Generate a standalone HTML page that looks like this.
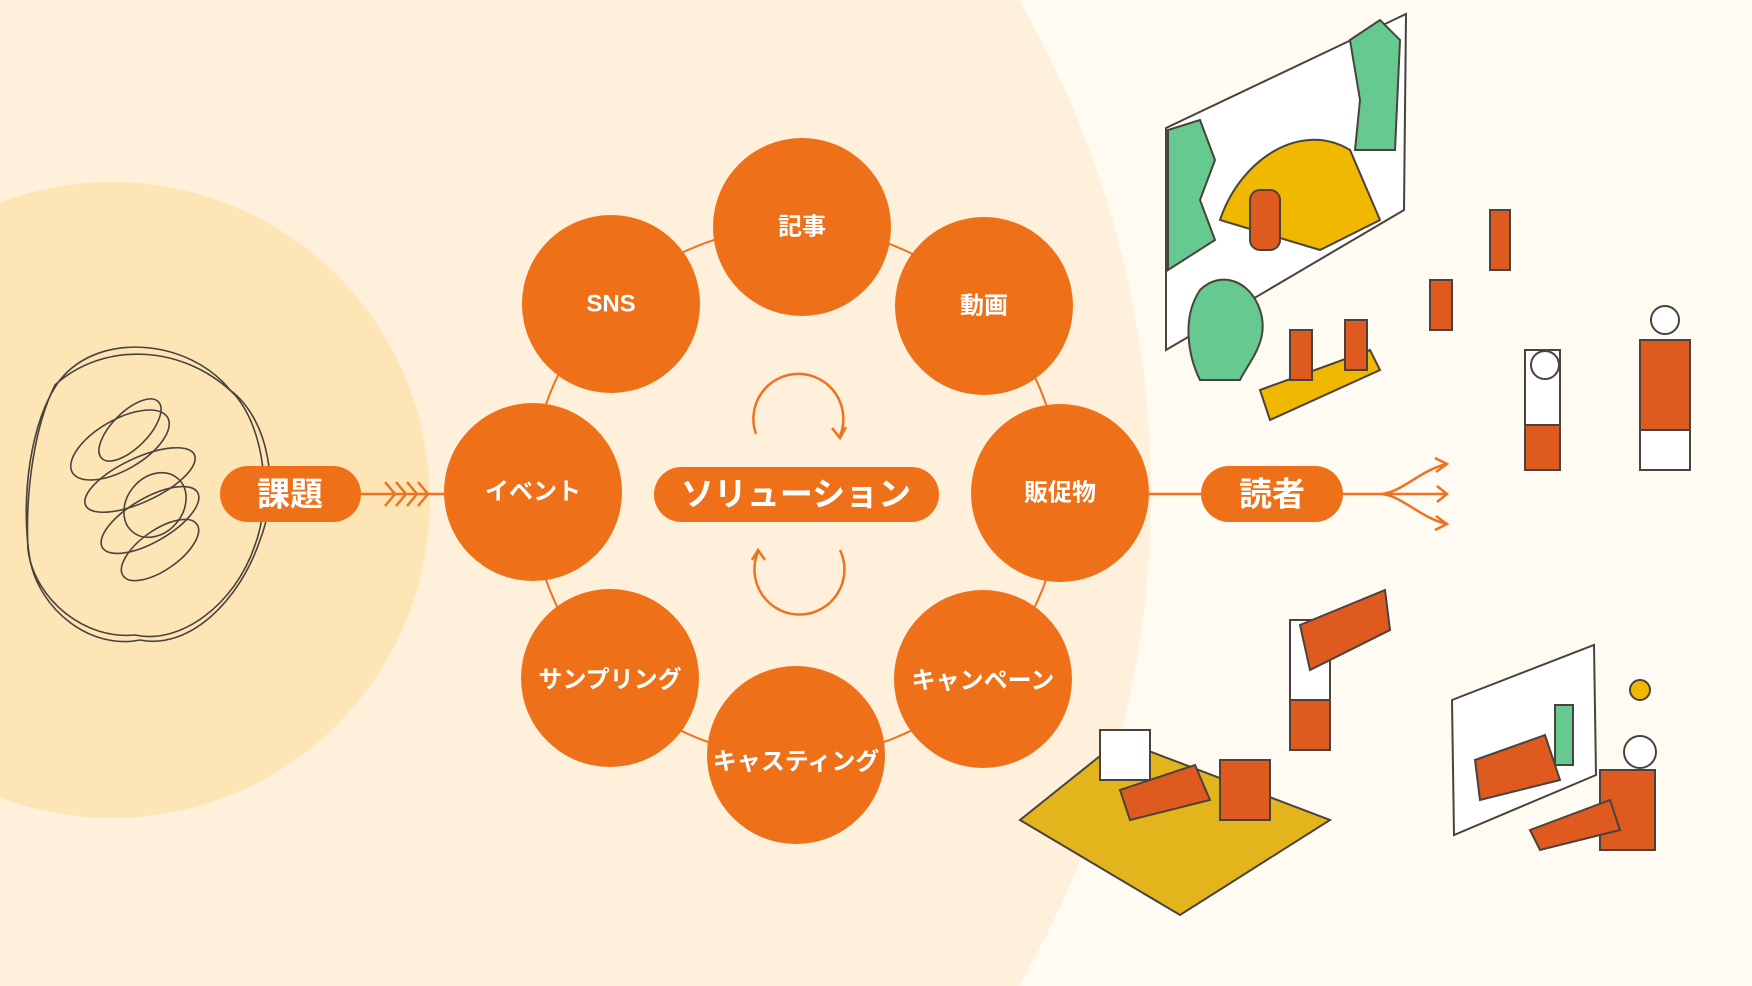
<!DOCTYPE html>
<html><head><meta charset="utf-8"><style>
html,body{margin:0;padding:0;background:#fffbf3;width:1752px;height:986px;overflow:hidden;}
svg{display:block}
text{font-family:"Liberation Sans","Noto Sans CJK JP",sans-serif;font-weight:bold;fill:#fff;text-anchor:middle;dominant-baseline:central}
</style></head><body>
<svg width="1752" height="986" viewBox="0 0 1752 986" xmlns="http://www.w3.org/2000/svg">
<rect width="1752" height="986" fill="#fffbf3"/>
<circle cx="165" cy="493" r="986" fill="#fef0db"/>
<circle cx="112" cy="500" r="318" fill="#fde5b6"/>
<g fill="none" stroke="#4a423c" stroke-width="1.6">
<path d="M60 380 C100 330 190 340 230 390 C270 420 280 490 260 540 C240 600 190 650 140 640 C90 650 40 610 30 560 C20 500 30 420 60 380Z"/>
<path d="M55 385 C105 340 185 345 235 395 C265 430 272 500 255 545 C235 605 180 645 135 635 C85 640 35 600 28 550 C25 490 35 425 55 385Z"/>
<ellipse cx="120" cy="445" rx="55" ry="25" transform="rotate(-30 120 445)"/>
<ellipse cx="140" cy="480" rx="60" ry="22" transform="rotate(-25 140 480)"/>
<ellipse cx="150" cy="520" rx="55" ry="22" transform="rotate(-30 150 520)"/>
<ellipse cx="160" cy="550" rx="45" ry="20" transform="rotate(-35 160 550)"/>
<ellipse cx="130" cy="430" rx="40" ry="18" transform="rotate(-45 130 430)"/>
<ellipse cx="155" cy="505" rx="35" ry="28" transform="rotate(-50 155 505)"/>
</g>
<circle cx="796" cy="492" r="265" fill="none" stroke="#ef7220" stroke-width="2"/>
<g stroke="#ef7220" stroke-width="2.5" fill="none">
<line x1="361" y1="494" x2="445" y2="494"/>
<path d="M385 482 L395 494 L385 506 M396 482 L406 494 L396 506 M407 482 L417 494 L407 506 M418 482 L428 494 L418 506"/>
<line x1="1149" y1="494" x2="1201" y2="494"/>
<path d="M1343 494 H1380 M1380 494 C1400 494 1420 470 1447 464 M1380 494 H1447 M1380 494 C1400 494 1420 518 1447 524"/>
<path d="M1435 458 L1447 464 L1436 472 M1437 486 L1447 494 L1437 502 M1436 516 L1447 524 L1435 530"/>
<path d="M756 434 A45 45 0 1 1 840 436"/>
<path d="M832 428 L840 438 L846 427"/>
<path d="M840 550 A45 45 0 1 1 758 552"/>
<path d="M752 560 L758 550 L765 560"/>
</g>
<g fill="#ee7119">
<circle cx="802" cy="227" r="89"/><circle cx="611" cy="304" r="89"/><circle cx="984" cy="306" r="89"/>
<circle cx="533" cy="492" r="89"/><circle cx="1060" cy="493" r="89"/><circle cx="610" cy="678" r="89"/>
<circle cx="796" cy="755" r="89"/><circle cx="983" cy="679" r="89"/>
<rect x="654" y="467" width="285" height="55" rx="27.5"/>
<rect x="220" y="466" width="141" height="56" rx="28"/>
<rect x="1201" y="466" width="142" height="56" rx="28"/>
</g>
<g font-size="24">
<text x="802" y="227">記事</text><text x="611" y="304">SNS</text><text x="984" y="306">動画</text>
<text x="533" y="492">イベント</text><text x="1060" y="493">販促物</text><text x="610" y="680">サンプリング</text>
<text x="796" y="762">キャスティング</text><text x="983" y="681">キャンペーン</text>
</g>
<text x="796" y="494" font-size="33">ソリューション</text>
<text x="290" y="494" font-size="33">課題</text>
<text x="1272" y="494" font-size="33">読者</text>
<g stroke="#4a423c" stroke-width="2">
<path d="M1166 128 L1406 14 L1404 210 L1166 350 Z" fill="#fff"/>
<path d="M1168 130 L1200 120 L1215 160 L1200 200 L1215 240 L1168 270Z" fill="#66c98f"/>
<path d="M1350 40 L1380 20 L1400 40 L1395 150 L1355 150 L1360 100Z" fill="#66c98f"/>
<path d="M1220 220 C1240 160 1300 120 1350 150 L1380 220 L1320 250Z" fill="#f0b800"/>
<path d="M1200 290 C1220 270 1250 280 1260 310 C1270 340 1250 360 1240 380 L1200 380 C1190 360 1180 320 1200 290Z" fill="#66c98f"/>
<rect x="1250" y="190" width="30" height="60" rx="10" fill="#de5a1e"/>
<path d="M1260 390 L1370 350 L1380 370 L1270 420Z" fill="#f0b800"/>
<rect x="1290" y="330" width="22" height="50" fill="#de5a1e"/>
<rect x="1345" y="320" width="22" height="50" fill="#de5a1e"/>
<rect x="1430" y="280" width="22" height="50" fill="#de5a1e"/>
<rect x="1490" y="210" width="20" height="60" fill="#de5a1e"/>
<rect x="1525" y="350" width="35" height="75" fill="#fff"/><rect x="1525" y="425" width="35" height="45" fill="#de5a1e"/>
<rect x="1640" y="340" width="50" height="90" fill="#de5a1e"/><rect x="1640" y="430" width="50" height="40" fill="#fff"/>
<circle cx="1665" cy="320" r="14" fill="#fff"/><circle cx="1545" cy="365" r="14" fill="#fff"/>
<path d="M1020 820 L1120 740 L1330 820 L1180 915 Z" fill="#e3b41b"/>
<rect x="1290" y="620" width="40" height="80" fill="#fff"/><rect x="1290" y="700" width="40" height="50" fill="#de5a1e"/>
<path d="M1300 625 L1385 590 L1390 630 L1310 670Z" fill="#de5a1e"/>
<rect x="1100" y="730" width="50" height="50" fill="#fff"/>
<rect x="1220" y="760" width="50" height="60" fill="#de5a1e"/>
<path d="M1120 790 L1195 765 L1210 800 L1130 820Z" fill="#de5a1e"/>
<path d="M1452 700 L1594 645 L1596 775 L1454 835Z" fill="#fff"/>
<path d="M1475 760 L1545 735 L1560 780 L1480 800Z" fill="#de5a1e"/>
<rect x="1555" y="705" width="18" height="60" fill="#66c98f"/>
<rect x="1600" y="770" width="55" height="80" fill="#de5a1e"/>
<circle cx="1640" cy="752" r="16" fill="#fff"/>
<path d="M1530 830 L1610 800 L1620 830 L1540 850Z" fill="#de5a1e"/>
<circle cx="1640" cy="690" r="10" fill="#f0b800"/>
</g>
</svg>
</body></html>
